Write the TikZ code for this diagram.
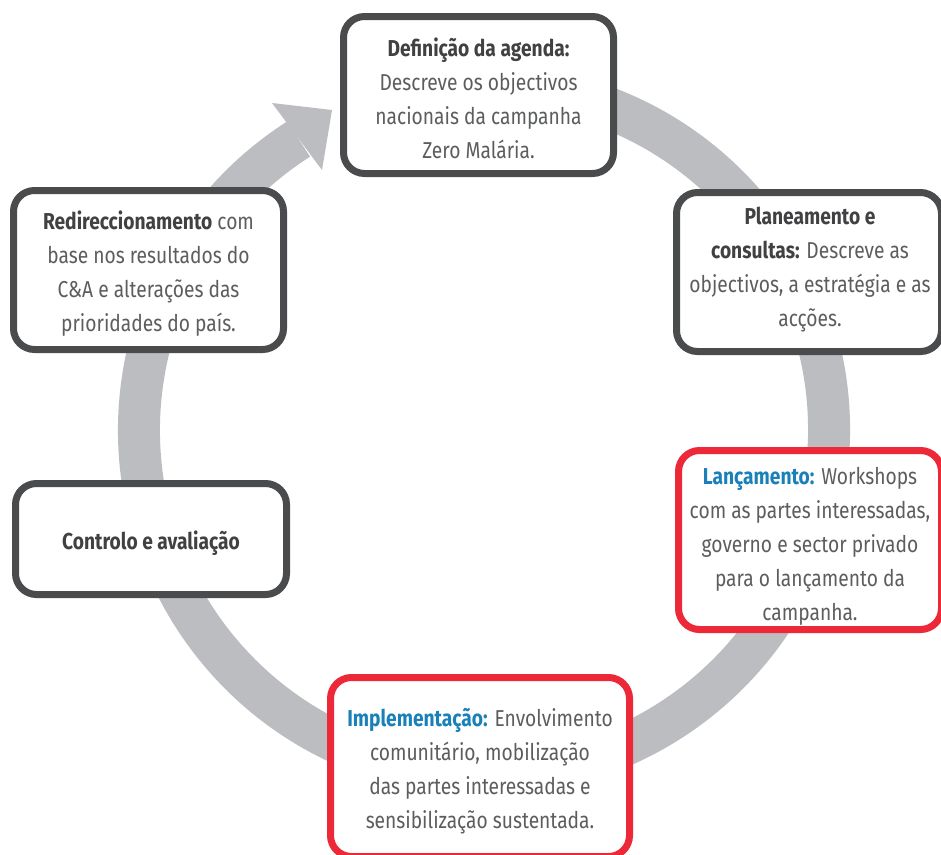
\documentclass[tikz,border=0pt]{standalone}
\usepackage{fontspec}
\setmainfont{Fira Sans}[FakeStretch=0.835]
\definecolor{boxgray}{HTML}{4A4B4D}
\definecolor{ringgray}{HTML}{BCBDC0}
\definecolor{txtgray}{HTML}{5C5D5F}
\definecolor{ttlgray}{HTML}{414042}
\definecolor{ttlblue}{HTML}{1A80B8}
\definecolor{boxred}{HTML}{EC2839}
\newcommand{\ttl}[1]{{\bfseries\color{ttlgray}#1}}
\newcommand{\ttlb}[1]{{\bfseries\color{ttlblue}#1}}
\tikzset{
  stagebox/.style={draw=boxgray, line width=7pt, fill=white, rounded corners=21pt,
    rectangle, align=center, inner sep=0pt, text=txtgray},
  redbox/.style={stagebox, draw=boxred},
  stagetext/.style={text=txtgray, align=center, inner sep=0pt,
    font=\fontsize{23}{34}\selectfont},
  ring/.style={draw=ringgray, line width=42pt}
}
\begin{document}
\begin{tikzpicture}[x=1pt,y=-1pt]
\useasboundingbox (0,0) rectangle (941,854);
\fill[white] (0,0) rectangle (941,854);
\coordinate (c) at (484,430);
% ring
\draw[ring] (c) ++(-80:345) arc[start angle=-80, end angle=237.5, radius=345];
\coordinate (ab1) at (272,103);
\coordinate (ab2) at (322,170);
\coordinate (tip) at (332,110);
\fill[ringgray] (ab1) -- (tip) -- (ab2) -- cycle;
% boxes
\node[stagebox, minimum width=270pt, minimum height=157pt] (agenda) at (478.5,95) {};
\node[stagetext] (agendat) at (478.5,98)
  {\ttl{Definição da agenda:}\\Descreve os objectivos\\nacionais da campanha\\Zero Malária.};
\node[stagebox, minimum width=270pt, minimum height=159pt] (redir) at (148.5,270) {};
\node[stagetext] (redirt) at (148.5,274)
  {\ttl{Redireccionamento} com\\base nos resultados do\\C\&A e alterações das\\prioridades do país.};
\node[stagebox, minimum width=265pt, minimum height=159pt] (plan) at (809,272) {};
\node[stagetext] (plant) at (810,270)
  {\ttl{Planeamento e}\\\ttl{consultas:} Descreve as\\objectivos, a estratégia e as\\acções.};
\node[redbox, minimum width=263pt, minimum height=179pt] (lanc) at (810,540) {};
\node[stagetext] (lanct) at (810,546)
  {\ttlb{Lançamento:} Workshops\\com as partes interessadas,\\governo e sector privado\\para o lançamento da\\campanha.};
\node[redbox, minimum width=299pt, minimum height=179pt] (impl) at (480,767) {};
\node[stagetext] (implt) at (480,771)
  {\ttlb{Implementação:} Envolvimento\\comunitário, mobilização\\das partes interessadas e\\sensibilização sustentada.};
\node[stagebox, minimum width=271pt, minimum height=111pt] (contr) at (151,539) {};
\node[stagetext] (contrt) at (151,543)
  {\ttl{Controlo e avaliação}};
\end{tikzpicture}
\end{document}
